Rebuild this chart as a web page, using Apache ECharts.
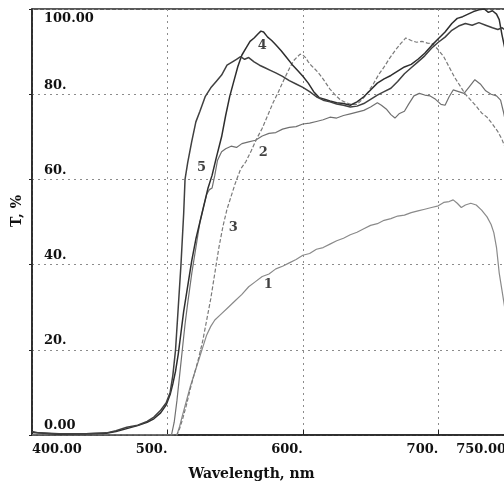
<!DOCTYPE html>
<html>
<head>
<meta charset="utf-8">
<script src="https://cdn.jsdelivr.net/npm/echarts@6/dist/echarts.min.js"></script>
<style>
  html, body { margin: 0; padding: 0; background: #fff; }
  #chart { width: 504px; height: 486px; }
</style>
</head>
<body>
<div id="chart"></div>
<script>
// wavelength (nm), transmission T (%)
const curve1 = [[400,0],[507,0],[509,2],[511,4.5],[514,8],[517,11.5],[520,14.5],[523,17.5],[526,20.5],[529,23.5],[532,25.5],[535,27],[540,28.5],[545,30],[550,31.5],[555,33],[560,34.8],[565,36],[570,37.2],[575,37.8],[580,39],[585,39.6],[590,40.4],[595,41.2],[600,42.2],[605,42.6],[610,43.6],[615,44],[620,44.8],[625,45.6],[630,46.2],[635,47],[640,47.6],[645,48.4],[650,49.2],[655,49.6],[660,50.4],[665,50.8],[670,51.4],[675,51.6],[680,52.2],[685,52.6],[690,53],[695,53.4],[700,53.8],[704,54.6],[708,54.8],[711,55.2],[714,54.4],[717,53.4],[720,54],[724,54.4],[728,54],[732,52.8],[736,51.2],[739,49.4],[741,47.5],[743,44],[745,38],[747,34],[749,30],[750,28]];

const curve2 = [[400,0],[503,0],[505,3],[507,8],[509,14],[511,20],[513,26],[515,31],[518,38],[521,44],[524,50],[527,54],[529,56.5],[531,57.6],[533,58],[535,61],[537,64.5],[540,66.5],[543,67.2],[547,67.8],[551,67.5],[555,68.4],[560,68.8],[565,69.2],[570,70.2],[575,70.8],[580,71],[585,71.8],[590,72.2],[595,72.4],[600,73],[605,73.2],[610,73.6],[615,74],[620,74.6],[625,74.4],[630,75],[635,75.4],[640,75.8],[645,76.2],[650,77],[655,78],[658,77.4],[662,76.4],[665,75.2],[668,74.4],[671,75.4],[675,76],[678,77.6],[682,79.6],[686,80.2],[690,79.8],[694,79.6],[698,78.8],[702,77.6],[705,77.4],[708,79.4],[711,81],[715,80.6],[719,80.2],[723,81.8],[727,83.4],[731,82.4],[735,80.8],[739,80],[743,79.6],[746,78.6],[748,76],[750,73]];

const curve3 = [[400,0],[507,0],[509,1.5],[511,3.5],[514,7],[517,11],[520,14.5],[523,18],[526,22],[529,27],[532,32],[535,38],[538,44],[541,49],[544,53],[547,56],[550,59],[554,62.4],[558,64.2],[562,66.8],[566,69.6],[570,72],[574,75],[578,78],[582,80.6],[586,83.4],[590,86],[593,87.8],[596,88.8],[598,89.4],[600,89.2],[602,88.6],[604,87.6],[606,86.8],[608,86.2],[611,85.2],[614,84],[617,82.6],[620,81.2],[624,79.8],[628,78.6],[632,78],[636,77.6],[640,77.6],[644,78.8],[648,80.4],[652,82.4],[656,84.6],[660,86.4],[664,88.4],[668,90.2],[672,91.8],[676,93.2],[680,92.6],[684,92.2],[688,92.4],[692,92],[696,91.8],[700,90.4],[704,88.8],[708,86.4],[712,84],[716,82],[720,80],[724,78.6],[728,77.2],[732,75.6],[736,74.6],[740,73],[744,71.2],[747,69.4],[750,67]];

const curve4 = [[400,0.6],[420,0.2],[440,0.3],[455,0.4],[462,0.8],[470,1.5],[478,2.2],[485,3],[490,3.8],[495,5.2],[499,7],[502,9.5],[504,12],[506,15],[508,19],[510,24],[512,29],[515,35],[518,41],[521,46],[524,50],[527,54],[530,58],[533,61],[536,65],[540,70],[543,75],[546,79.5],[549,83],[552,86.5],[555,89.2],[558,90.8],[561,92.4],[564,93.2],[567,94.2],[569,94.8],[571,94.6],[574,93.4],[577,92.6],[580,91.6],[584,90.2],[588,88.6],[592,87],[596,85.6],[600,84.2],[604,82.6],[608,80.6],[612,79.2],[616,78.8],[620,78.4],[625,78],[630,77.8],[635,77.4],[640,78.2],[645,79.4],[650,81],[655,82.6],[660,83.6],[665,84.4],[670,85.4],[675,86.4],[680,87],[685,88.2],[690,89.6],[695,91.4],[700,93],[705,94.6],[710,96.6],[714,97.8],[718,98.2],[722,98.8],[726,99.4],[730,99.8],[734,100],[737,99.2],[740,99.6],[743,98.8],[745,97.5],[747,94],[749,91],[750,89]];

const curve5 = [[400,0.8],[405,0.5],[420,0.3],[440,0.3],[455,0.5],[462,1],[470,1.8],[478,2.3],[485,3.2],[490,4.2],[495,5.8],[499,7.5],[502,10],[504,14],[506,20],[508,30],[510,40],[512,52],[513,60],[515,64],[518,69],[521,73.5],[524,76],[528,79.5],[532,81.5],[536,83],[540,84.5],[544,86.8],[548,87.6],[551,88.2],[554,88.8],[557,88.2],[560,88.6],[564,87.6],[568,86.8],[572,86.2],[576,85.6],[580,85],[585,84.2],[590,83.2],[595,82.4],[600,81.6],[605,80.6],[610,79.4],[615,78.6],[620,78.2],[625,77.7],[630,77.4],[635,77],[640,77.2],[645,77.8],[650,78.8],[655,79.8],[660,80.6],[665,81.4],[670,83],[675,84.8],[680,86.2],[685,87.6],[690,89],[695,90.8],[700,92.2],[705,93.4],[710,95],[715,96],[720,96.6],[725,96.2],[730,96.8],[735,96.2],[740,95.6],[744,95.2],[747,95.6],[750,95]];

// curve numbers placed next to their curves (nm, T)
const curveNames = ['1', '2', '3', '4', '5'];
const curveLabelPos = [[574.5, 35.3], [570.8, 66.4], [548.7, 48.7], [570.1, 91.3], [525.1, 62.8]];

const xTicks = { 400: '400.00', 750: '750.00' };
const yTicks = { 0: '0.00', 100: '100.00' };

const serif = 'DejaVu Serif';
const myChart = echarts.init(document.getElementById('chart'));

const lineStyles = [
  { color: '#8a8a8a', width: 1.2 },
  { color: '#707070', width: 1.2 },
  { color: '#7a7a7a', width: 1.2, type: [4, 2] },
  { color: '#2e2e2e', width: 1.5 },
  { color: '#404040', width: 1.5 }
];
const curves = [curve1, curve2, curve3, curve4, curve5];

let series = curves.map(function (c, i) {
  return {
    type: 'line',
    name: curveNames[i],
    data: c,
    showSymbol: false,
    symbol: 'none',
    lineStyle: lineStyles[i],
    z: 3
  };
});

series.push({
  type: 'scatter',
  data: curveLabelPos.map(function (p, i) { return { value: p, name: curveNames[i] }; }),
  symbolSize: 1,
  itemStyle: { color: 'rgba(0,0,0,0)' },
  label: {
    show: true,
    position: 'inside',
    formatter: '{b}',
    fontFamily: serif,
    fontWeight: 'bold',
    fontSize: 13,
    color: '#111'
  },
  z: 5
});

const option = {
  backgroundColor: '#fff',
  animation: false,
  grid: {
    left: 32, top: 9, width: 474, height: 426,
    outerBoundsMode: 'none',
    containLabel: false,
    show: true, borderColor: '#222', borderWidth: 1.5
  },
  xAxis: {
    type: 'value',
    min: 400, max: 750, interval: 100,
    name: 'Wavelength, nm',
    nameLocation: 'middle',
    nameGap: 32,
    nameTextStyle: { fontFamily: serif, fontWeight: 'bold', fontSize: 14, color: '#111', padding: [0, 35, 0, 0] },
    axisLine: { show: true, lineStyle: { color: '#222', width: 1.5 } },
    axisTick: { show: true, inside: true, length: 5, lineStyle: { color: '#222' } },
    axisLabel: {
      align: 'right',
      alignMinLabel: 'left',
      margin: 8,
      fontFamily: serif, fontWeight: 'bold', fontSize: 13, color: '#111',
      formatter: function (v) { return xTicks[v] || (v + '.'); }
    },
    splitLine: { show: true, lineStyle: { color: '#8c8c8c', type: [2, 4], width: 1 } }
  },
  yAxis: {
    type: 'value',
    min: 0, max: 100, interval: 20,
    name: 'T, %',
    nameLocation: 'middle',
    nameGap: 8,
    nameTextStyle: { fontFamily: serif, fontWeight: 'bold', fontSize: 14, color: '#111', padding: [0, 0, 0, 22] },
    axisLine: { show: true, lineStyle: { color: '#222', width: 1.5 } },
    axisTick: { show: true, inside: false, length: 3, lineStyle: { color: '#222' } },
    axisLabel: {
      inside: true,
      margin: 12,
      verticalAlign: 'middle',
      fontFamily: serif, fontWeight: 'bold', fontSize: 13, color: '#111',
      formatter: function (v) {
        return v === 100 ? '{t|' + yTicks[v] + '}' : '{b|' + (yTicks[v] || (v + '.')) + '}';
      },
      rich: {
        t: { fontFamily: serif, fontWeight: 'bold', fontSize: 13, color: '#111', padding: [20, 0, 0, 0] },
        b: { fontFamily: serif, fontWeight: 'bold', fontSize: 13, color: '#111', padding: [0, 0, 18, 0] }
      }
    },
    splitLine: { show: true, lineStyle: { color: '#8c8c8c', type: [2, 4], width: 1 } }
  },
  series: series
};

option && myChart.setOption(option);
</script>
</body>
</html>
